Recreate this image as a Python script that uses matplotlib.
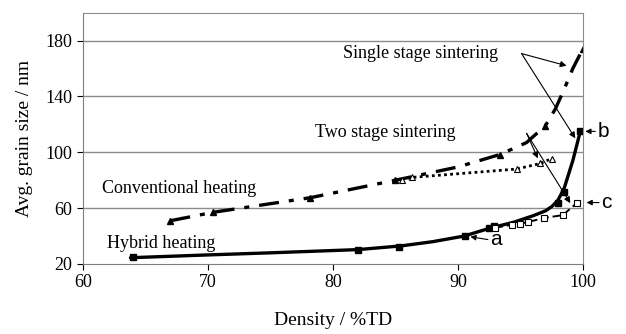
"""Grain size vs density for hybrid and conventional sintering."""
import matplotlib

matplotlib.use("Agg")

import matplotlib.pyplot as plt  # noqa: E402

# smooth trend lines
hybrid_curve_x = [63.8, 70, 75, 82, 85.5, 88, 90.5, 92.5, 94.5, 96, 97, 97.5, 98.0, 98.5, 99.2, 99.8]
hybrid_curve_y = [24.5, 26.5, 28, 30.3, 33, 36, 40, 45.5, 50, 54.5, 58, 61, 65.5, 74, 94, 115]
conv_curve_x = [67, 70.4, 78.2, 85, 90, 93.4, 95.5, 97, 97.8, 98.5, 99.2, 100]
conv_curve_y = [51, 57, 67.5, 80, 89.5, 98.5, 107, 119, 131, 145, 160, 174]

# measured points
hybrid_x = [64, 82, 85.3, 90.6, 92.5, 92.9, 98.0, 98.5, 99.8]
hybrid_y = [25, 30, 32.5, 40, 46, 47, 64, 71.5, 115]
conv_x = [67, 70.4, 78.2, 85, 93.4, 97, 100]
conv_y = [51, 57, 67.5, 80, 98, 119, 174]
two_conv_x = [85.5, 86.3, 94.7, 96.6, 97.5]
two_conv_y = [80.5, 82, 88, 92, 95.5]
two_hyb_x = [93, 94.3, 95, 95.6, 96.9, 98.4, 99.5]
two_hyb_y = [46, 48, 49, 50, 53, 55, 63.5]

x_ticks = [60, 70, 80, 90, 100]
y_ticks = [20, 60, 100, 140, 180]

SERIF = ["Liberation Serif", "DejaVu Serif"]
SANS = ["Liberation Sans", "DejaVu Sans"]

plt.rcParams["font.family"] = SERIF

fig = plt.figure(figsize=(6.26, 3.34), dpi=100)
ax = fig.add_axes([0.1326, 0.2096, 0.7984, 0.7524])

ax.set_xlim(60, 100)
ax.set_ylim(20, 200)
ax.set_xticks(x_ticks)
ax.set_yticks(y_ticks)
ax.tick_params(labelsize=13, direction="out", length=4, width=0.8)

for v in y_ticks[1:]:
    ax.axhline(v, color="#8c8c8c", lw=1.0, zorder=0)
ax.spines["top"].set_color("#8c8c8c")
ax.spines["right"].set_color("#8c8c8c")
ax.spines["left"].set_color("#7f7f7f")
ax.spines["bottom"].set_color("#7f7f7f")

# lines
ax.plot(hybrid_curve_x, hybrid_curve_y, color="black", lw=2.4, solid_capstyle="round")
ax.plot(conv_curve_x, conv_curve_y, color="black", lw=2.4, dashes=(6, 3, 1.5, 3))
ax.plot(two_conv_x, two_conv_y, color="black", lw=2.0, ls=(0, (1, 1.2)))
ax.plot(two_hyb_x, two_hyb_y, color="black", lw=1.4, dashes=(4, 2))

# markers
ax.plot(hybrid_x, hybrid_y, ls="none", marker="s", ms=4.5, color="black")
ax.plot(conv_x, conv_y, ls="none", marker="^", ms=5, color="black")
ax.plot(two_conv_x, two_conv_y, ls="none", marker="^", ms=4.5, mfc="white", mec="black", mew=0.8)
ax.plot(two_hyb_x, two_hyb_y, ls="none", marker="s", ms=4.5, mfc="white", mec="black", mew=0.8)

# labels on the plot
ax.text(80.8, 171, "Single stage sintering", fontsize=13, va="center", ha="left")
ax.text(78.6, 114, "Two stage sintering", fontsize=13, va="center", ha="left")
ax.text(61.5, 74, "Conventional heating", fontsize=13, va="center", ha="left")
ax.text(61.9, 35, "Hybrid heating", fontsize=13, va="center", ha="left")

arrow = dict(arrowstyle="-|>", color="black", lw=0.8, mutation_scale=9, shrinkA=0, shrinkB=0)
for tip in [(98.7, 162), (99.4, 110)]:
    ax.annotate("", xy=tip, xytext=(95.1, 170.7), arrowprops=arrow)
for tip in [(96.4, 95.7), (99.0, 63.6)]:
    ax.annotate("", xy=tip, xytext=(95.5, 113.6), arrowprops=arrow)

# a, b, c markers
letter_arrow = dict(arrowstyle="-|>", color="black", lw=0.8, mutation_scale=8, shrinkA=0, shrinkB=0)
for label, tip, tail in [("a", (91.0, 39.5), (92.4, 37.5)),
                         ("b", (100.2, 115), (101.0, 115)),
                         ("c", (100.3, 64), (101.3, 64))]:
    ax.annotate("", xy=tip, xytext=tail, arrowprops=letter_arrow, annotation_clip=False)
    ax.text(tail[0] + 0.2, tail[1], label, fontsize=15, family=SANS, va="center", ha="left",
            clip_on=False)

ax.set_xlabel("Density / %TD", fontsize=14, labelpad=15)
ax.set_ylabel("Avg. grain size / nm", fontsize=14, labelpad=9)

fig.savefig("out.png", dpi=100)
